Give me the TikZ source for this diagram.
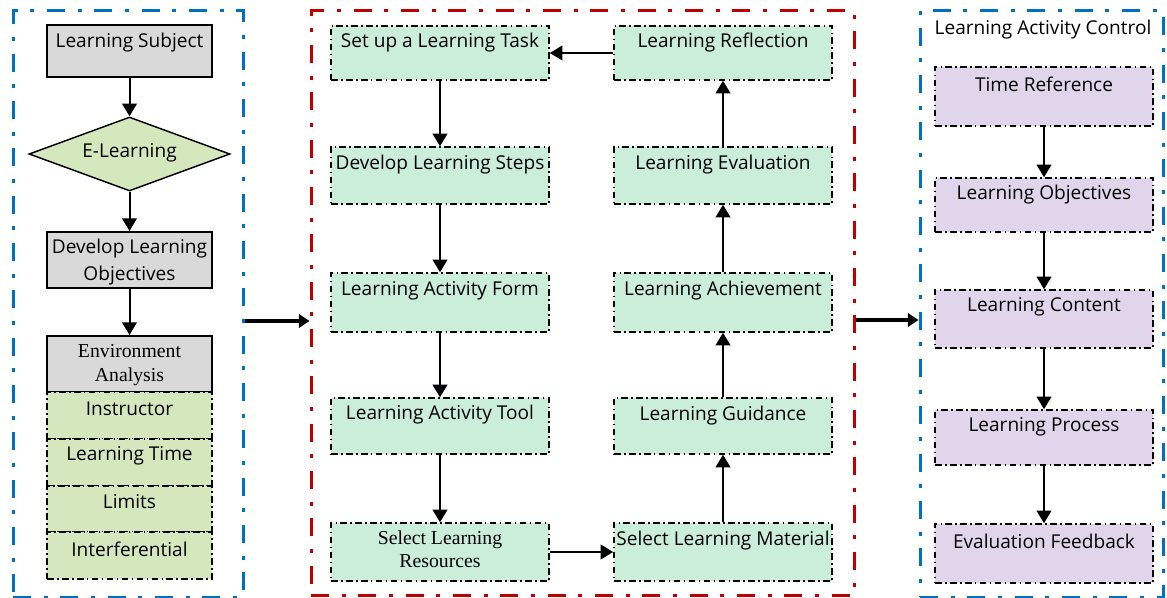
\documentclass[tikz,border=0pt]{standalone}
\usepackage{fontspec}
\setmainfont{Open Sans}
\newfontfamily\serifa{Liberation Serif}
\usetikzlibrary{shapes.geometric,arrows.meta,fit}
\definecolor{fblue}{HTML}{0070C0}
\definecolor{fred}{HTML}{C00000}
\definecolor{gfill}{HTML}{D9D9D9}
\definecolor{lgreen}{HTML}{D5E8BD}
\definecolor{mint}{HTML}{CBEEDB}
\definecolor{lilac}{HTML}{E1D5EB}
\tikzset{
  frame/.style={line width=2.25pt, dash pattern=on 13.5pt off 9.5pt on 3pt off 9.5pt, inner sep=0pt},
  gbox/.style={draw=black, line width=1.5pt, fill=gfill, inner sep=0pt},
  dbox/.style={draw=black, line width=1.1pt, dash pattern=on 5pt off 2.5pt on 1.2pt off 2.5pt, inner sep=0pt},
  txt/.style={font=\fontsize{14.3}{17}\selectfont, inner sep=0pt, align=center},
  stxt/.style={font=\serifa\fontsize{14.8}{17.5}\selectfont, inner sep=0pt, align=center},
  arr/.style={draw=black, line width=1.5pt, -{Triangle[width=11pt,length=9.5pt]}},
  bigarr/.style={draw=black, line width=3pt, -{Triangle[width=10pt,length=8pt]}},
}
\begin{document}
\begin{tikzpicture}[x=0.75pt,y=-0.75pt]
\useasboundingbox (0,0) rectangle (1167,598);
% frames
\node[frame, draw=fblue, fit={(13,11) (243,597)}] (lf) {};
\node[frame, draw=fred, fit={(311,11) (854,595)}] (mf) {};
\node[frame, draw=fblue, fit={(920,11) (1163,597)}] (rf) {};
% left column
\node[gbox, fit={(47,25) (212,77)}] (ls) {};
\node[txt] (lst) at (129.5,43) {Learning Subject};
\node[diamond, draw=black, line width=1.1pt, fill=lgreen, minimum width=201*0.75pt, minimum height=74*0.75pt, aspect=2.7, inner sep=0pt] (el) at (129.5,154) {};
\node[txt] (elt) at (129.5,153) {E-Learning};
\node[gbox, fit={(47,232) (212,288)}] (dlo) {};
\node[txt, font=\fontsize{14.3}{20}\selectfont] (dlot) at (129.5,262) {Develop Learning\\Objectives};
\node[gbox, fit={(47,336) (212,392)}] (env) {};
\node[stxt, font=\serifa\fontsize{14.8}{18}\selectfont] (envt) at (129.5,365) {Environment\\Analysis};
\node[dbox, fill=lgreen, fit={(47,392) (212,439)}] (ins) {};
\node[txt] (inst) at (129.5,409) {Instructor};
\node[dbox, fill=lgreen, fit={(47,439) (212,486)}] (lt) {};
\node[txt] (ltt) at (129.5,456) {Learning Time};
\node[dbox, fill=lgreen, fit={(47,486) (212,532)}] (lim) {};
\node[txt] (limt) at (129.5,502) {Limits};
\node[dbox, fill=lgreen, fit={(47,532) (212,579)}] (itf) {};
\node[txt] (itft) at (129.5,549) {Interferential};
\draw[arr] (ls.south) -- (el.north);
\draw[arr] (el.south) -- (dlo.north);
\draw[arr] (dlo.south) -- (env.north);
% middle left column
\node[dbox, fill=mint, fit={(331,26) (549,80)}] (st) {};
\node[txt] (stt) at (440,43) {Set up a Learning Task};
\node[dbox, fill=mint, fit={(331,147) (549,204)}] (ds) {};
\node[txt] (dst) at (440,165) {Develop Learning Steps};
\node[dbox, fill=mint, fit={(331,273) (549,332)}] (af) {};
\node[txt] (aft) at (440,291) {Learning Activity Form};
\node[dbox, fill=mint, fit={(331,398) (549,454)}] (at) {};
\node[txt] (att) at (440,415) {Learning Activity Tool};
\node[dbox, fill=mint, fit={(331,523) (549,581)}] (sr) {};
\node[stxt] (srt) at (440,549) {Select Learning\\Resources};
% middle right column
\node[dbox, fill=mint, fit={(614,26) (832,80)}] (lr) {};
\node[txt] (lrt) at (723,43) {Learning Reflection};
\node[dbox, fill=mint, fit={(614,147) (832,204)}] (le) {};
\node[txt] (let) at (723,165) {Learning Evaluation};
\node[dbox, fill=mint, fit={(614,273) (832,332)}] (la) {};
\node[txt] (lat) at (723,291) {Learning Achievement};
\node[dbox, fill=mint, fit={(614,398) (832,454)}] (lg) {};
\node[txt] (lgt) at (723,416) {Learning Guidance};
\node[dbox, fill=mint, fit={(614,523) (832,581)}] (lm) {};
\node[txt] (lmt) at (723,541) {Select Learning Material};
\draw[arr] (st.south) -- (ds.north);
\draw[arr] (ds.south) -- (af.north);
\draw[arr] (af.south) -- (at.north);
\draw[arr] (at.south) -- (sr.north);
\draw[arr] (sr.east) -- (lm.west);
\draw[arr] (lm.north) -- (lg.south);
\draw[arr] (lg.north) -- (la.south);
\draw[arr] (la.north) -- (le.south);
\draw[arr] (le.north) -- (lr.south);
\draw[arr] (lr.west) -- (st.east);
% right column
\node[txt] (rft) at (1043,30) {Learning Activity Control};
\node[dbox, fill=lilac, fit={(935,67) (1153,126)}] (tr) {};
\node[txt] (trt) at (1044,84) {Time Reference};
\node[dbox, fill=lilac, fit={(935,178) (1153,232)}] (lo) {};
\node[txt] (lot) at (1044,195) {Learning Objectives};
\node[dbox, fill=lilac, fit={(935,290) (1153,348)}] (lc) {};
\node[txt] (lct) at (1044,307) {Learning Content};
\node[dbox, fill=lilac, fit={(935,410) (1153,465)}] (lp) {};
\node[txt] (lpt) at (1044,427) {Learning Process};
\node[dbox, fill=lilac, fit={(935,524) (1153,583)}] (ef) {};
\node[txt] (eft) at (1044,541) {Evaluation Feedback};
\draw[arr] (tr.south) -- (lo.north);
\draw[arr] (lo.south) -- (lc.north);
\draw[arr] (lc.south) -- (lp.north);
\draw[arr] (lp.south) -- (ef.north);
% connectors between frames
\draw[bigarr] ([yshift=-12.75pt]lf.east) -- ([yshift=-12.75pt]lf.east -| mf.west);
\draw[bigarr] ([yshift=-12.75pt]mf.east) -- ([yshift=-12.75pt]mf.east -| rf.west);
\end{tikzpicture}
\end{document}
